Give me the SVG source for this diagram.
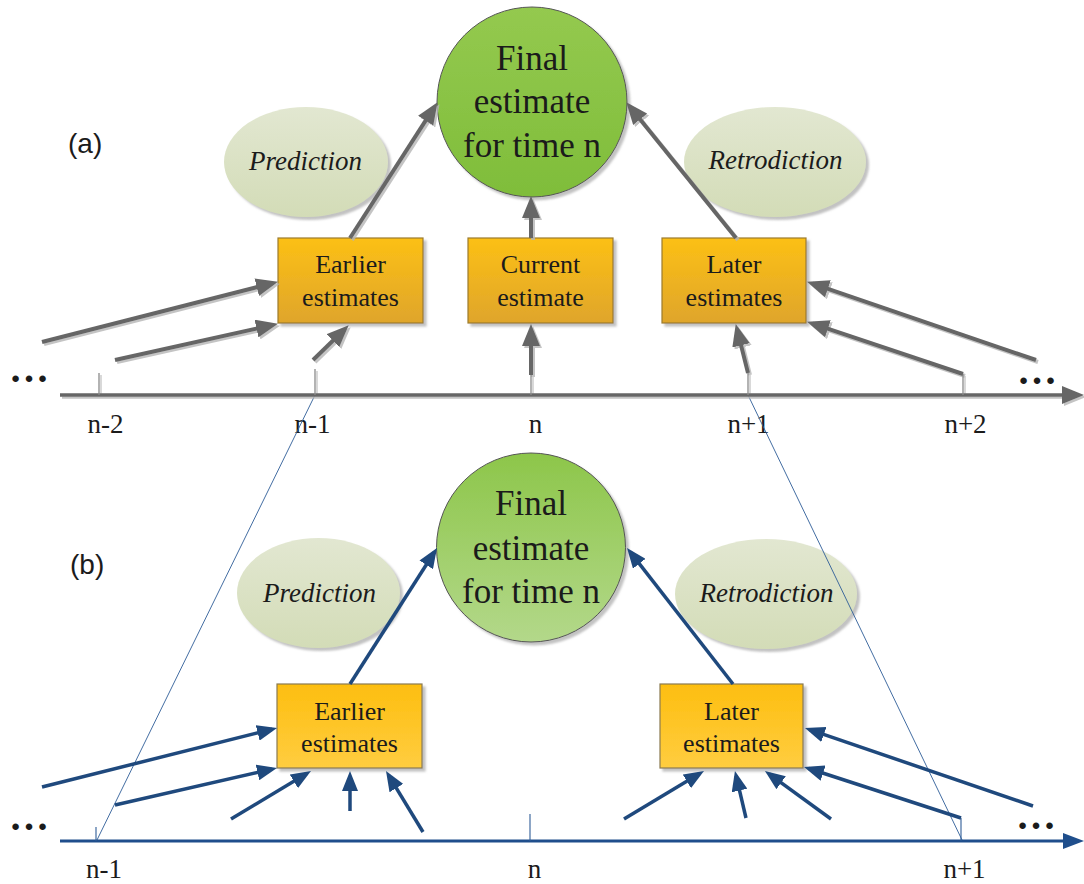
<svg xmlns="http://www.w3.org/2000/svg" width="1084" height="884" viewBox="0 0 1084 884">
<style>
text{font-family:"Liberation Serif","Times New Roman",serif;fill:#1b1b1b}
.ct{font-size:35px;text-anchor:middle}
.bt{font-size:26px;text-anchor:middle}
.et{font-size:27px;font-style:italic;text-anchor:middle}
.lb{font-size:27px;text-anchor:middle}
.dots{font-size:40px;font-weight:bold}
text.pl{font-family:"Liberation Sans","Open Sans",sans-serif;font-size:28px}
.ga{stroke:#666;stroke-width:4;fill:none;marker-end:url(#ahG)}
.ba{stroke:#1F497D;stroke-width:3.5;fill:none;marker-end:url(#ahB)}
.gt{stroke:#8a8a8a;stroke-width:1.3}
.bk{stroke:#2E5C97;stroke-width:1.1}
.thin{stroke:#2E5C97;stroke-width:0.9;fill:none}
.boxa{fill:url(#gBoxA);stroke:#9C7B2C;stroke-width:1.2}
.boxb{fill:url(#gBoxB);stroke:#8A7A50;stroke-width:1.2}
.ell{fill:url(#gEll)}
</style>
<defs>
<linearGradient id="gCircA" x1="0" y1="0" x2="0" y2="1"><stop offset="0" stop-color="#94C94F"/><stop offset="1" stop-color="#7FBD3A"/></linearGradient>
<linearGradient id="gCircB" x1="0" y1="0" x2="0" y2="1"><stop offset="0" stop-color="#8DC64A"/><stop offset="1" stop-color="#B3D88A"/></linearGradient>
<linearGradient id="gBoxA" x1="0" y1="0" x2="0" y2="1"><stop offset="0" stop-color="#FCC015"/><stop offset="1" stop-color="#DFA52C"/></linearGradient>
<linearGradient id="gBoxB" x1="0" y1="0" x2="0" y2="1"><stop offset="0" stop-color="#FDBE10"/><stop offset="1" stop-color="#FFCD40"/></linearGradient>
<linearGradient id="gEll" x1="0" y1="0" x2="0" y2="1"><stop offset="0" stop-color="#E2E7D1"/><stop offset="1" stop-color="#D3DCB7"/></linearGradient>
<filter id="shN" x="-10%" y="-10%" width="125%" height="125%"><feDropShadow dx="3" dy="3" stdDeviation="1.2" flood-color="#9a9a9a" flood-opacity="0.6"/></filter>
<filter id="shL" x="-5%" y="-10%" width="115%" height="130%"><feDropShadow dx="2" dy="2" stdDeviation="0.7" flood-color="#b5b5b5" flood-opacity="0.8"/></filter>
<marker id="ahG" markerUnits="userSpaceOnUse" markerWidth="22" markerHeight="18" refX="16" refY="9" orient="auto"><path d="M0,0 L22,9 L0,18 Z" fill="#666"/></marker>
<marker id="ahB" markerUnits="userSpaceOnUse" markerWidth="20" markerHeight="16" refX="15" refY="8" orient="auto"><path d="M0,0 L20,8 L0,16 Z" fill="#1F497D"/></marker>
</defs>

<rect width="1084" height="884" fill="#ffffff"/>

<!-- panel labels -->
<text class="pl" x="68" y="153">(a)</text>
<text class="pl" x="70" y="574">(b)</text>

<!-- ellipses -->
<g id="predA"><ellipse class="ell" cx="306" cy="162" rx="82" ry="55" filter="url(#shN)"/><text class="et" x="305.5" y="170">Prediction</text></g>
<g id="retroA"><ellipse class="ell" cx="775" cy="162" rx="91" ry="55" filter="url(#shN)"/><text class="et" x="775.5" y="169">Retrodiction</text></g>
<g id="predB"><ellipse class="ell" cx="318.5" cy="593" rx="81.5" ry="55" filter="url(#shN)"/><text class="et" x="319.5" y="602">Prediction</text></g>
<g id="retroB"><ellipse class="ell" cx="766" cy="594" rx="91" ry="55" filter="url(#shN)"/><text class="et" x="766.5" y="602">Retrodiction</text></g>

<!-- final estimate circles -->
<g id="finalA"><circle cx="532" cy="102" r="95" fill="url(#gCircA)" stroke="#555" stroke-width="1" filter="url(#shN)"/>
<text class="ct" x="532" y="70">Final</text><text class="ct" x="532" y="113">estimate</text><text class="ct" x="532" y="157">for time n</text></g>
<g id="finalB"><circle cx="531" cy="547.5" r="94.5" fill="url(#gCircB)" stroke="#555" stroke-width="1" filter="url(#shN)"/>
<text class="ct" x="531" y="515">Final</text><text class="ct" x="531" y="560">estimate</text><text class="ct" x="531" y="603">for time n</text></g>

<!-- boxes (a) -->
<g id="earlierA"><rect class="boxa" x="278" y="238" width="145" height="85" filter="url(#shN)"/><text class="bt" x="350.5" y="273">Earlier</text><text class="bt" x="350.5" y="306">estimates</text></g>
<g id="currentA"><rect class="boxa" x="468" y="238" width="145" height="85" filter="url(#shN)"/><text class="bt" x="540.5" y="273">Current</text><text class="bt" x="540.5" y="306">estimate</text></g>
<g id="laterA"><rect class="boxa" x="662" y="238" width="144" height="85" filter="url(#shN)"/><text class="bt" x="734" y="273">Later</text><text class="bt" x="734" y="306">estimates</text></g>
<!-- boxes (b) -->
<g id="earlierB"><rect class="boxb" x="277" y="684" width="145" height="84" filter="url(#shN)"/><text class="bt" x="349.5" y="720">Earlier</text><text class="bt" x="349.5" y="752">estimates</text></g>
<g id="laterB"><rect class="boxb" x="660" y="684" width="143" height="84" filter="url(#shN)"/><text class="bt" x="731.5" y="720">Later</text><text class="bt" x="731.5" y="752">estimates</text></g>

<!-- axis labels and dots -->
<g id="axisLabelsA">
<text class="lb" x="105.5" y="433">n-2</text>
<text class="lb" x="312.5" y="433">n-1</text>
<text class="lb" x="535.5" y="433">n</text>
<text class="lb" x="748.5" y="433">n+1</text>
<text class="lb" x="965.5" y="433">n+2</text>
<text class="dots" x="9" y="382">…</text>
<text class="dots" x="1017" y="384">…</text>
</g>
<g id="axisLabelsB">
<text class="lb" x="104" y="878">n-1</text>
<text class="lb" x="534.5" y="878">n</text>
<text class="lb" x="964.5" y="878">n+1</text>
<text class="dots" x="9" y="830">…</text>
<text class="dots" x="1016" y="829">…</text>
</g>

<!-- connectors -->
<g id="connectors">
<line class="thin" x1="315" y1="395" x2="96" y2="842"/>
<line class="thin" x1="748" y1="395" x2="963" y2="842"/>

<g filter="url(#shL)">
<line x1="60" y1="395" x2="1065" y2="395" stroke="#666" stroke-width="3.5"/>
<polygon points="1062,386 1084,395 1062,404" fill="#666"/>
<line class="gt" x1="99" y1="373" x2="99" y2="395"/>
<line class="gt" x1="315" y1="369" x2="315" y2="395"/>
<line class="gt" x1="531" y1="375" x2="531" y2="395"/>
<line class="gt" x1="748" y1="373" x2="748" y2="395"/>
<line class="gt" x1="963" y1="374" x2="963" y2="395"/>
<line class="ga" x1="350" y1="238" x2="434.3" y2="107.2"/>
<line class="ga" x1="531" y1="238" x2="531" y2="202"/>
<line class="ga" x1="736" y1="238" x2="630.1" y2="106.9"/>
<line class="ga" x1="42" y1="342" x2="272.2" y2="283.2"/>
<line class="ga" x1="115" y1="360" x2="272.1" y2="325.1"/>
<line class="ga" x1="313" y1="360" x2="344.4" y2="329.5"/>
<line class="ga" x1="531" y1="375" x2="531" y2="330"/>
<line class="ga" x1="748" y1="373" x2="737.2" y2="329.8"/>
<line class="ga" x1="963" y1="374" x2="812.7" y2="323.6"/>
<line class="ga" x1="1036" y1="360" x2="812.7" y2="283.6"/>
</g>

<line x1="60" y1="841" x2="1066" y2="841" stroke="#1F4E8C" stroke-width="3"/>
<polygon points="1063,833 1084,841 1063,849" fill="#1F4E8C"/>
<line class="bk" x1="96" y1="827" x2="96" y2="841"/>
<line class="bk" x1="530" y1="814" x2="530" y2="841"/>
<line class="bk" x1="961" y1="818" x2="961" y2="841"/>
<line class="ba" x1="350" y1="684" x2="434.3" y2="552.2"/>
<line class="ba" x1="733" y1="684" x2="630.1" y2="551.9"/>
<line class="ba" x1="42" y1="787" x2="272.2" y2="729.2"/>
<line class="ba" x1="115" y1="805" x2="272.1" y2="769.1"/>
<line class="ba" x1="231" y1="819" x2="306.7" y2="773.6"/>
<line class="ba" x1="350" y1="811" x2="350" y2="776"/>
<line class="ba" x1="423" y1="832" x2="388.6" y2="775.3"/>
<line class="ba" x1="624" y1="819" x2="699.7" y2="773.6"/>
<line class="ba" x1="746" y1="818" x2="736.1" y2="775.9"/>
<line class="ba" x1="831" y1="819" x2="769" y2="773.9"/>
<line class="ba" x1="961" y1="818" x2="808.8" y2="768.5"/>
<line class="ba" x1="1033" y1="806" x2="809.7" y2="729.6"/>
</g>
</svg>
